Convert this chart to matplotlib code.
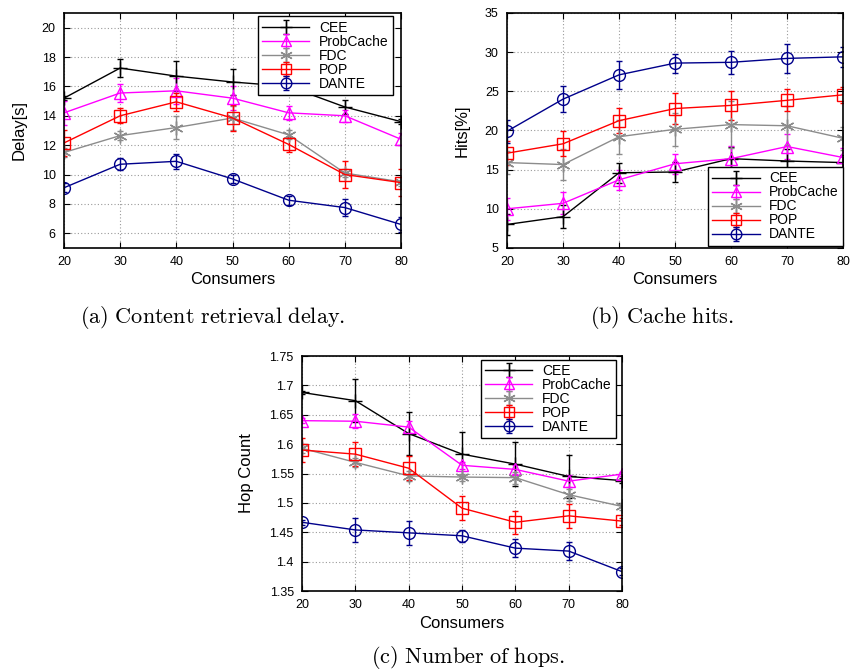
import numpy as np
import matplotlib
matplotlib.use("Agg")
import matplotlib.pyplot as plt

plt.rcParams['font.family'] = ['Liberation Sans', 'DejaVu Sans']
plt.rcParams['mathtext.fontset'] = 'cm'

consumers = [20, 30, 40, 50, 60, 70, 80]
labels = ['CEE', 'ProbCache', 'FDC', 'POP', 'DANTE']

# (a) content retrieval delay [s]
delay = {
    'CEE':       [15.2, 17.25, 16.7, 16.3, 16.0, 14.6, 13.6],
    'ProbCache': [14.2, 15.55, 15.7, 15.2, 14.2, 14.0, 12.4],
    'FDC':       [11.5, 12.65, 13.2, 13.85, 12.7, 10.1, 9.5],
    'POP':       [12.15, 14.0, 14.95, 13.85, 12.05, 10.0, 9.45],
    'DANTE':     [9.1, 10.7, 10.9, 9.7, 8.25, 7.75, 6.6],
}
delay_err = {
    'CEE':       [0.15, 0.6, 1.0, 0.9, 0.5, 0.5, 0.15],
    'ProbCache': [0.8, 0.6, 0.9, 0.8, 0.5, 0.4, 0.4],
    'FDC':       [0.3, 0.3, 0.8, 0.8, 0.3, 0.3, 0.3],
    'POP':       [0.9, 0.5, 0.6, 0.9, 0.5, 0.9, 0.9],
    'DANTE':     [0.3, 0.4, 0.5, 0.3, 0.3, 0.6, 0.5],
}

# (b) cache hits [%]
hits = {
    'CEE':       [8.0, 9.0, 14.6, 14.7, 16.4, 16.1, 15.9],
    'ProbCache': [10.0, 10.7, 13.7, 15.75, 16.4, 17.95, 16.55],
    'FDC':       [15.9, 15.65, 19.2, 20.15, 20.75, 20.6, 19.0],
    'POP':       [17.1, 18.3, 21.25, 22.8, 23.2, 23.85, 24.55],
    'DANTE':     [19.9, 24.0, 27.1, 28.6, 28.7, 29.2, 29.4],
}
hits_err = {
    'CEE':       [1.3, 1.5, 1.3, 1.3, 1.5, 1.5, 1.0],
    'ProbCache': [1.4, 1.4, 1.3, 1.3, 1.6, 1.6, 1.2],
    'FDC':       [1.5, 2.0, 2.2, 2.1, 3.0, 2.5, 1.5],
    'POP':       [1.5, 1.6, 1.6, 2.0, 1.9, 1.4, 1.0],
    'DANTE':     [1.5, 1.7, 1.8, 1.2, 1.5, 1.8, 1.3],
}

# (c) hop count
hops = {
    'CEE':       [1.688, 1.674, 1.618, 1.583, 1.566, 1.545, 1.538],
    'ProbCache': [1.640, 1.639, 1.629, 1.564, 1.557, 1.537, 1.549],
    'FDC':       [1.593, 1.569, 1.546, 1.544, 1.543, 1.514, 1.494],
    'POP':       [1.590, 1.583, 1.559, 1.491, 1.467, 1.478, 1.469],
    'DANTE':     [1.467, 1.454, 1.449, 1.444, 1.423, 1.418, 1.383],
}
hops_err = {
    'CEE':       [0.003, 0.037, 0.036, 0.038, 0.038, 0.036, 0.004],
    'ProbCache': [0.004, 0.012, 0.010, 0.006, 0.008, 0.010, 0.004],
    'FDC':       [0.008, 0.008, 0.008, 0.006, 0.010, 0.010, 0.006],
    'POP':       [0.020, 0.020, 0.020, 0.020, 0.020, 0.020, 0.006],
    'DANTE':     [0.004, 0.020, 0.020, 0.010, 0.015, 0.016, 0.006],
}

styles = {
    'CEE':       dict(color='black', marker='+', ms=10),
    'ProbCache': dict(color='#ff00ff', marker='^', ms=8.5),
    'FDC':       dict(color='#8c8c8c', marker=(6, 2, 0), ms=10),
    'POP':       dict(color='#ff0000', marker='s', ms=8.5),
    'DANTE':     dict(color='#00008b', marker='o', ms=8.5),
}


def draw_panel(ax, data, err, ylim, yticks, ylabel, ylabfmt, legend_loc, legend_anchor):
    for name in labels:
        st = styles[name]
        ax.errorbar(consumers, data[name], yerr=err[name], color=st['color'],
                    marker=st['marker'], ms=st['ms'], mfc='none', mew=1.0,
                    lw=1.0, elinewidth=1.0, capsize=2, label=name)
    ax.set_xlim(20, 80)
    ax.set_ylim(*ylim)
    ax.set_xticks(consumers)
    ax.set_yticks(yticks)
    ax.set_yticklabels([ylabfmt(v) for v in yticks])
    ax.grid(True, color='#9a9a9a', linestyle=(0, (1, 2)), linewidth=0.8)
    ax.tick_params(direction='in', top=True, right=True, labelsize=9, length=4, pad=6)
    ax.set_xlabel('Consumers', fontsize=12, labelpad=3)
    ax.set_ylabel(ylabel, fontsize=12, labelpad=11)
    for s in ax.spines.values():
        s.set_linewidth(1.2)
    leg = ax.legend(loc=legend_loc, bbox_to_anchor=legend_anchor, fontsize=10,
                    frameon=True, fancybox=False, framealpha=1, edgecolor='black',
                    handlelength=3.4, labelspacing=0.0, borderpad=0.3,
                    handletextpad=0.7, borderaxespad=0, markerscale=0.9)
    leg.get_frame().set_linewidth(1.0)


fig = plt.figure(figsize=(8.52, 6.72), dpi=100)

ax_a = fig.add_axes([0.0751, 0.631, 0.3956, 0.3497])
draw_panel(ax_a, delay, delay_err, (5, 21), list(range(6, 21, 2)), 'Delay[s]',
           lambda v: f'{v}', 'upper right', (0.976, 0.985))

ax_b = fig.add_axes([0.5951, 0.631, 0.3944, 0.3497])
draw_panel(ax_b, hits, hits_err, (5, 35), list(range(5, 36, 5)), 'Hits[%]',
           lambda v: f'{v}', 'lower right', (1.0, 0.01))

ax_c = fig.add_axes([0.3545, 0.1205, 0.3756, 0.3497])
draw_panel(ax_c, hops, hops_err, (1.35, 1.75),
           [1.35, 1.4, 1.45, 1.5, 1.55, 1.6, 1.65, 1.7, 1.75], 'Hop Count',
           lambda v: f'{v:g}', 'upper right', (0.98, 0.985))

fig.text(0.249, 0.527, r'$\mathrm{(a)\ Content\ retrieval\ delay.}$', ha='center', va='center', fontsize=16)
fig.text(0.777, 0.527, r'$\mathrm{(b)\ Cache\ hits.}$', ha='center', va='center', fontsize=16)
fig.text(0.549, 0.022, r'$\mathrm{(c)\ Number\ of\ hops.}$', ha='center', va='center', fontsize=16)

fig.savefig('out.png', dpi=100)
